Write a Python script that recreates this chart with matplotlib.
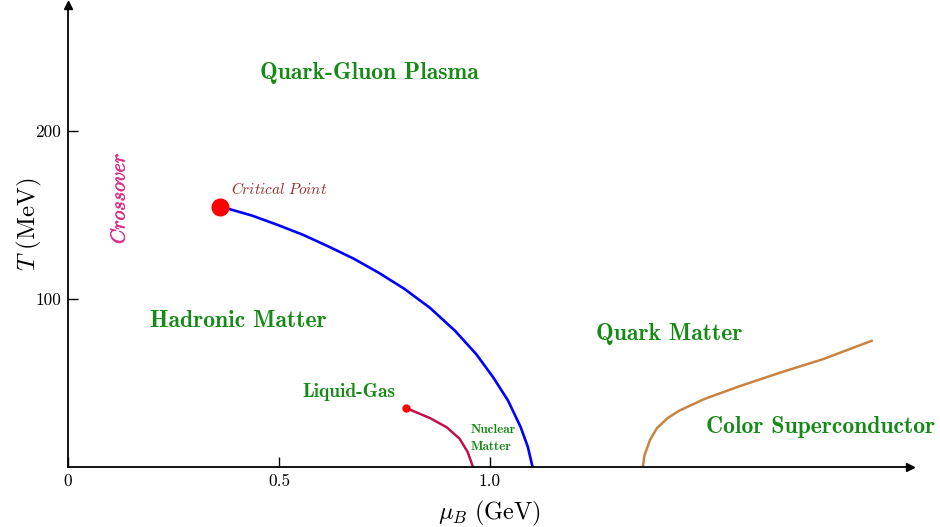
import matplotlib
matplotlib.use("Agg")
import matplotlib.pyplot as plt
import matplotlib.patheffects as pe

plt.rcParams['font.family'] = ['cmr10']
plt.rcParams['mathtext.fontset'] = 'cm'
plt.rcParams['axes.unicode_minus'] = False

# phase boundaries (mu_B in GeV, T in MeV)
crit_mu, crit_T = 0.360, 154.8
first_order_mu = [0.360, 0.3815, 0.4367, 0.4967, 0.5569, 0.6169, 0.6770, 0.7371, 0.7972,
                  0.8573, 0.9173, 0.9675, 1.0076, 1.0427, 1.0726, 1.0896, 1.1007]
first_order_T = [154.8, 153.6, 149.6, 144.1, 138.2, 131.3, 124.0, 115.5, 106.0,
                 94.8, 81.0, 67.1, 53.3, 39.5, 23.7, 11.9, 0.0]

lg_mu = [0.800, 0.857, 0.897, 0.928, 0.947, 0.9595]
lg_T = [35.2, 29.2, 23.7, 16.8, 8.9, 0.0]

csc_mu = [1.362, 1.366, 1.379, 1.395, 1.420, 1.448, 1.508, 1.588, 1.689, 1.789, 1.904]
csc_T = [0.0, 7.0, 16.1, 23.0, 29.0, 33.5, 40.5, 47.8, 56.3, 64.2, 75.1]

xticks = [0, 0.5, 1.0]
xticklabels = ['0', '0.5', '1.0']
yticks = [100, 200]

green = '#168a16'

fig = plt.figure(figsize=(9.4, 5.27), dpi=100)
ax = fig.add_axes([68 / 940, 60 / 527, 842 / 940, 462 / 527])
ax.set_xlim(0, 1.995)
ax.set_ylim(0, 275)

for s in ['top', 'right']:
    ax.spines[s].set_visible(False)
for s in ['left', 'bottom']:
    ax.spines[s].set_linewidth(1.3)
ax.plot(1, 0, '>k', ms=6, transform=ax.get_yaxis_transform(), clip_on=False)
ax.plot(0, 1, '^k', ms=6, transform=ax.get_xaxis_transform(), clip_on=False)

ax.set_xticks(xticks)
ax.set_xticklabels(xticklabels)
ax.set_yticks(yticks)
ax.tick_params(direction='in', length=7, width=1.0, labelsize=12.5, pad=5)

ax.plot(first_order_mu, first_order_T, color='blue', lw=1.9, solid_capstyle='butt')
ax.plot(crit_mu, crit_T, 'o', color='red', ms=12, zorder=5)
ax.plot(lg_mu, lg_T, color='#c0124c', lw=1.8)
ax.plot(lg_mu[0], lg_T[0], 'o', color='red', ms=5, zorder=5)
ax.plot(csc_mu, csc_T, color='#c8843f', lw=1.8)

bold = dict(family='cmb10', color=green, ha='center', va='center')
ax.text(0.713, 234.5, 'Quark-Gluon Plasma', fontsize=17, **bold)
ax.text(0.403, 87, 'Hadronic Matter', fontsize=17, **bold)
ax.text(0.666, 44.6, 'Liquid-Gas', fontsize=14, **bold)
ax.text(1.424, 79, 'Quark Matter', fontsize=17, **bold)
ax.text(1.784, 23.8, 'Color Superconductor', fontsize=17, **bold)
ax.text(0.953, 17, 'Nuclear\nMatter', family='cmb10', color=green, fontsize=9.5,
        ha='left', va='center', linespacing=1.6)

ax.text(0.5, 165.5, r'$\mathit{Critical\ Point}$', color='#9b2a2a', fontsize=11,
        ha='center', va='center')
ax.text(0.121, 160, r'$\mathit{Crossover}$', color='#dd2f86', fontsize=14.5,
        ha='center', va='center', rotation=90,
        path_effects=[pe.withStroke(linewidth=0.4, foreground='#dd2f86')])

ax.set_xlabel(r'$\mu_B\ (\mathrm{GeV})$', fontsize=17.5)
ax.set_ylabel(r'$T\ (\mathrm{MeV})$', fontsize=18)
ax.xaxis.set_label_coords(0.5, -0.068)
ax.yaxis.set_label_coords(-0.028, 0.525)

fig.savefig('out.png', dpi=100)
